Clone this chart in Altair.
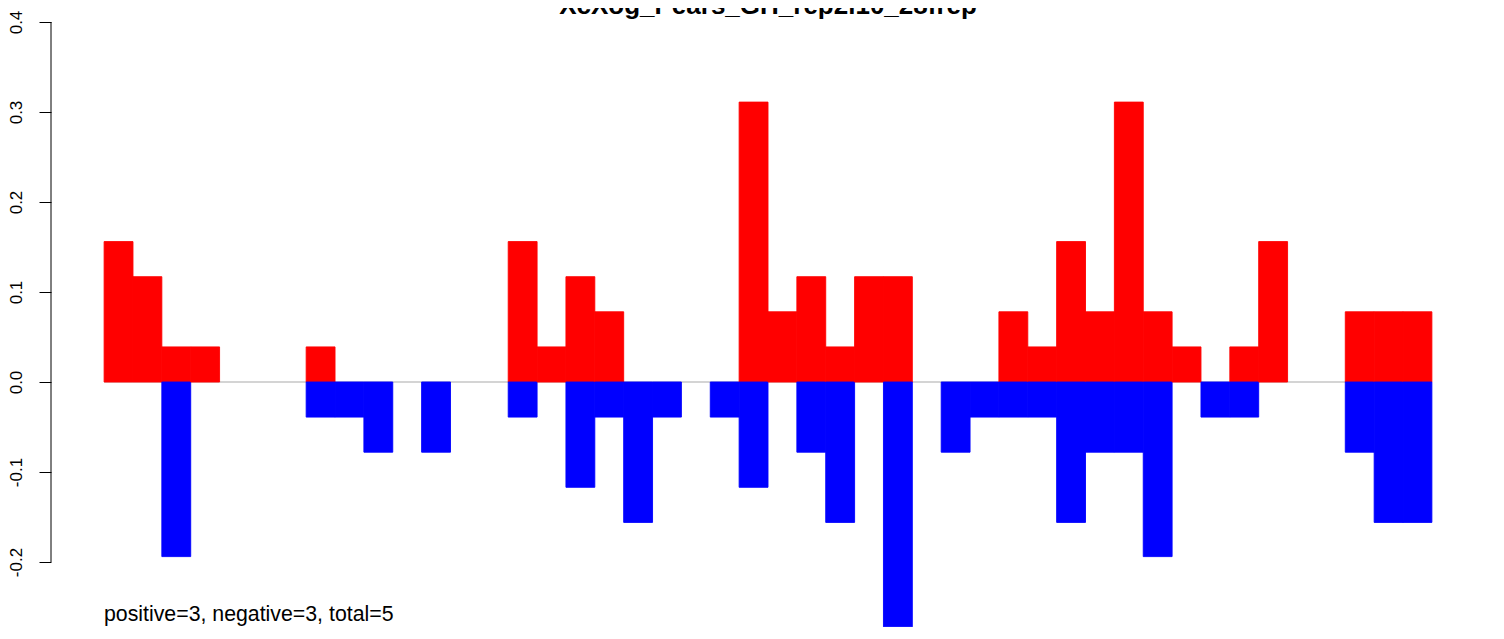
import altair as alt
import pandas as pd

FONT = "Liberation Sans"

title_text = "XcXog_Pears_GH_rep2i10_28frep"
note_text = "positive=3, negative=3, total=5"

positive = [0.156, 0.117, 0.039, 0.039, 0, 0, 0, 0.039, 0, 0,
            0, 0, 0, 0, 0.156, 0.039, 0.117, 0.078, 0, 0,
            0, 0, 0.311, 0.078, 0.117, 0.039, 0.117, 0.117, 0, 0,
            0, 0.078, 0.039, 0.156, 0.078, 0.311, 0.078, 0.039, 0, 0.039,
            0.156, 0, 0, 0.078, 0.078, 0.078]
negative = [0, 0, -0.194, 0, 0, 0, 0, -0.039, -0.039, -0.078,
            0, -0.078, 0, 0, -0.039, 0, -0.117, -0.039, -0.156, -0.039,
            0, -0.039, -0.117, 0, -0.078, -0.156, 0, -0.272, 0, -0.078,
            -0.039, -0.039, -0.039, -0.156, -0.078, -0.078, -0.194, 0, -0.039, -0.039,
            0, 0, 0, -0.078, -0.156, -0.156]
y_ticks = [-0.2, -0.1, 0.0, 0.1, 0.2, 0.3, 0.4]

rows = []
for i, (p, n) in enumerate(zip(positive, negative)):
    if p:
        rows.append({"x0": i, "x1": i + 1, "v": p, "sign": "pos"})
    if n:
        rows.append({"x0": i, "x1": i + 1, "v": n, "sign": "neg"})
bars_df = pd.DataFrame(rows)

W, H = 1434, 600
x_scale = alt.Scale(domain=[-1.84, 47.84], nice=False, zero=False)
y_scale = alt.Scale(domain=[(374 - H) / 900, 374 / 900], nice=False, zero=False)

y_axis = alt.Axis(
    values=y_ticks, domain=False, grid=False, title=None,
    tickSize=12, tickColor="black", tickWidth=1,
    labelAngle=270, labelAlign="center", labelBaseline="alphabetic",
    labelPadding=18, labelFontSize=17, labelColor="black", labelFont=FONT,
    labelFlush=False, labelOverlap=False,
    labelExpr="datum.value < 0 ? '-' + format(-datum.value, '.1f') : format(datum.value, '.1f')",
)

zero_line = alt.Chart(pd.DataFrame({"x0": [0], "x1": [len(positive)], "v": [0.0]})).mark_rule(
    color="#A9A9A9", strokeWidth=1.2
).encode(
    x=alt.X("x0:Q", scale=x_scale, axis=None),
    x2="x1:Q",
    y=alt.Y("v:Q", scale=y_scale, axis=y_axis),
)

bars = alt.Chart(bars_df).mark_rect(strokeWidth=0.9).encode(
    x=alt.X("x0:Q", scale=x_scale, axis=None),
    x2="x1:Q",
    y=alt.Y("v:Q", scale=y_scale, axis=y_axis),
    y2=alt.datum(0),
    color=alt.Color("sign:N", scale=alt.Scale(domain=["pos", "neg"], range=["#FF0000", "#0000FF"]), legend=None),
    stroke=alt.Stroke("sign:N", scale=alt.Scale(domain=["pos", "neg"], range=["#FF0000", "#0000FF"]), legend=None),
)

axis_line = alt.Chart(pd.DataFrame({"v": [y_ticks[0]], "v2": [y_ticks[-1]]})).mark_rule(
    color="black", strokeWidth=1
).encode(
    x=alt.value(0),
    y=alt.Y("v:Q", scale=y_scale, axis=y_axis),
    y2="v2:Q",
)

title = alt.Chart(pd.DataFrame({"t": [title_text]})).mark_text(
    font=FONT, fontSize=26, fontWeight="bold", align="center", baseline="alphabetic", color="black"
).encode(x=alt.value(W / 2), y=alt.value(6), text="t:N")

note = alt.Chart(pd.DataFrame({"t": [note_text]})).mark_text(
    font=FONT, fontSize=21.3, align="left", baseline="alphabetic", color="black"
).encode(x=alt.value(53), y=alt.value(613), text="t:N")

chart = alt.layer(zero_line, bars, axis_line, title, note).properties(
    width=W, height=H,
    autosize=alt.AutoSizeParams(type="none"),
    padding={"left": 43, "top": 0, "right": 10, "bottom": 19},
    background="white",
).configure_view(stroke=None)

chart.save("out.html", embed_options={"renderer": "svg", "actions": False})
